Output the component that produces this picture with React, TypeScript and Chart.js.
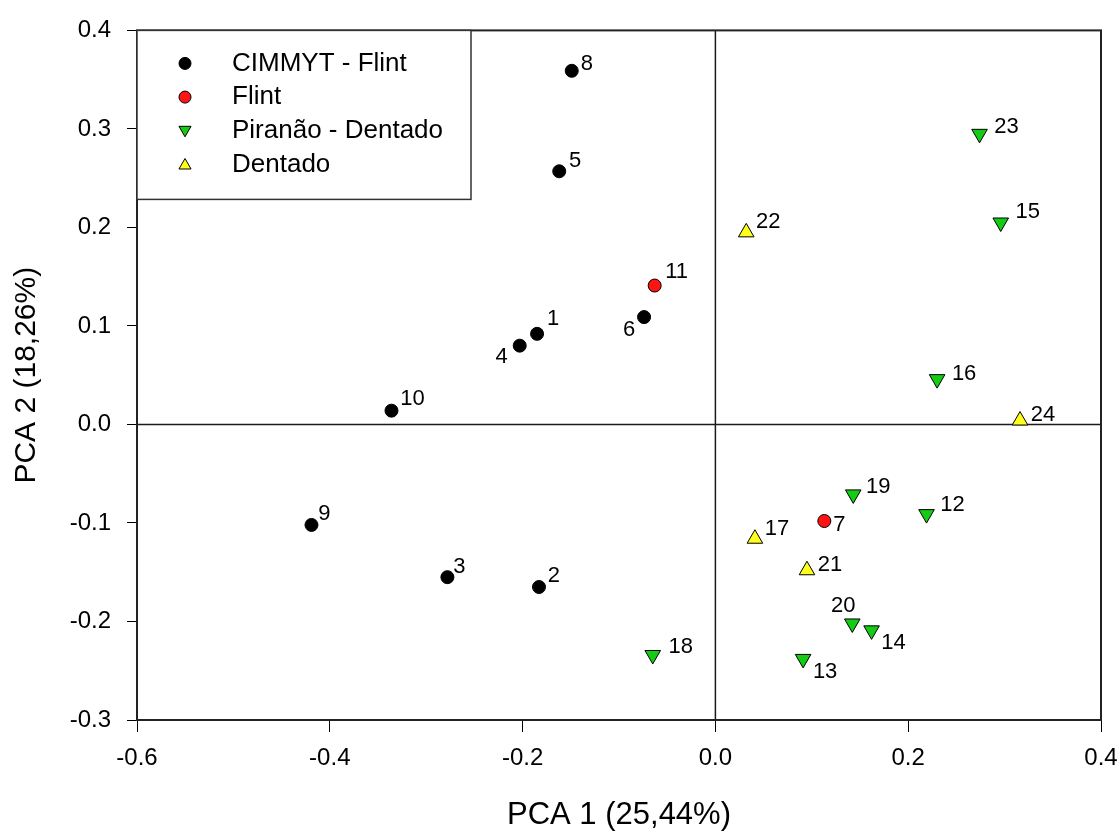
import React, { useEffect, useRef } from 'react';
import { Chart, registerables } from 'chart.js';

Chart.register(...registerables);

// ---------- data ----------
const seriesNames = ['CIMMYT - Flint', 'Flint', 'Piranão - Dentado', 'Dentado'];

const cimmytLabels = ['1', '2', '3', '4', '5', '6', '8', '9', '10'];
const cimmytX = [-0.185, -0.183, -0.278, -0.203, -0.162, -0.074, -0.149, -0.419, -0.336];
const cimmytY = [0.092, -0.165, -0.155, 0.080, 0.257, 0.109, 0.359, -0.102, 0.014];

const flintLabels = ['7', '11'];
const flintX = [0.113, -0.063];
const flintY = [-0.098, 0.141];

const piranaoLabels = ['12', '13', '14', '15', '16', '18', '19', '20', '23'];
const piranaoX = [0.219, 0.091, 0.162, 0.296, 0.230, -0.065, 0.143, 0.142, 0.274];
const piranaoY = [-0.091, -0.238, -0.209, 0.205, 0.046, -0.234, -0.071, -0.202, 0.295];

const dentadoLabels = ['17', '21', '22', '24'];
const dentadoX = [0.041, 0.095, 0.032, 0.316];
const dentadoY = [-0.116, -0.148, 0.195, 0.004];

const xTicks = [-0.6, -0.4, -0.2, 0.0, 0.2, 0.4];
const yTicks = [-0.3, -0.2, -0.1, 0.0, 0.1, 0.2, 0.3, 0.4];
const xTitle = 'PCA 1 (25,44%)';
const yTitle = 'PCA 2 (18,26%)';

// ---------- styles ----------
const FONT = '"Liberation Sans", Arial, sans-serif';

// label offset (dx, dy) in px from marker centre to label centre
const labelOffsets: Record<string, [number, number]> = {
  '1': [16, -15], '2': [15, -11], '3': [12, -10], '4': [-18, 11], '5': [16, -10],
  '6': [-15, 13], '7': [15, 4], '8': [15, -7], '9': [13, -11], '10': [21, -12],
  '11': [22, -14], '12': [26, -9], '13': [22, 13], '14': [22, 13], '15': [27, -11],
  '16': [27, -5], '17': [22, -10], '18': [28, -8], '19': [25, -7], '20': [-9, -18],
  '21': [23, -5], '22': [22, -10], '23': [27, -7], '24': [23, -6],
};

const mk = (xs: number[], ys: number[]) => xs.map((x, i) => ({ x, y: ys[i] }));

const seriesStyles = [
  { pointStyle: 'circle', rotation: 0, radius: 6.5, bg: '#000000', legendR: 6 },
  { pointStyle: 'circle', rotation: 0, radius: 6.5, bg: '#ff1414', legendR: 6 },
  { pointStyle: 'triangle', rotation: 180, radius: 9, bg: '#14cc14', legendR: 7 },
  { pointStyle: 'triangle', rotation: 0, radius: 9, bg: '#ffff1e', legendR: 7 },
];

const seriesLabels = [cimmytLabels, flintLabels, piranaoLabels, dentadoLabels];

function drawMarker(ctx: CanvasRenderingContext2D, style: string, rot: number, x: number, y: number, r: number, fill: string) {
  ctx.beginPath();
  if (style === 'circle') {
    ctx.arc(x, y, r, 0, Math.PI * 2);
  } else {
    let rad = (rot * Math.PI) / 180;
    for (let k = 0; k < 3; k++) {
      const px = x + Math.sin(rad) * r;
      const py = y - Math.cos(rad) * r;
      if (k === 0) ctx.moveTo(px, py); else ctx.lineTo(px, py);
      rad += (2 * Math.PI) / 3;
    }
    ctx.closePath();
  }
  ctx.fillStyle = fill;
  ctx.fill();
  ctx.strokeStyle = '#000';
  ctx.lineWidth = 1;
  ctx.stroke();
}

const framePlugin = {
  id: 'frameAndZero',
  beforeDatasetsDraw(chart: any) {
    const { ctx, chartArea: a, scales } = chart;
    ctx.save();
    ctx.strokeStyle = '#1a1a1a';
    ctx.lineWidth = 1.5;
    const x0 = scales.x.getPixelForValue(0);
    const y0 = scales.y.getPixelForValue(0);
    ctx.beginPath();
    ctx.moveTo(x0, a.top);
    ctx.lineTo(x0, a.bottom);
    ctx.moveTo(a.left, y0);
    ctx.lineTo(a.right, y0);
    ctx.stroke();
    ctx.strokeStyle = '#222';
    ctx.lineWidth = 2;
    ctx.strokeRect(a.left, a.top, a.right - a.left, a.bottom - a.top);
    ctx.restore();
  },
};

const labelPlugin = {
  id: 'pointLabels',
  afterDatasetsDraw(chart: any) {
    const { ctx } = chart;
    ctx.save();
    ctx.font = `22px ${FONT}`;
    ctx.fillStyle = '#000';
    ctx.textAlign = 'center';
    ctx.textBaseline = 'middle';
    chart.data.datasets.forEach((ds: any, di: number) => {
      const meta = chart.getDatasetMeta(di);
      meta.data.forEach((el: any, i: number) => {
        const lab = seriesLabels[di][i];
        const off = labelOffsets[lab] || [15, -10];
        ctx.fillText(lab, el.x + off[0], el.y + off[1]);
      });
    });
    ctx.restore();
  },
};

const legendPlugin = {
  id: 'boxLegend',
  afterDraw(chart: any) {
    const { ctx, chartArea: a } = chart;
    const bx = a.left;
    const by = a.top;
    const bw = 334;
    const bh = 169;
    ctx.save();
    ctx.fillStyle = '#fff';
    ctx.fillRect(bx, by, bw, bh);
    ctx.strokeStyle = '#333';
    ctx.lineWidth = 1.5;
    ctx.strokeRect(bx, by, bw, bh);
    ctx.font = `26px ${FONT}`;
    ctx.textAlign = 'left';
    ctx.textBaseline = 'middle';
    chart.data.datasets.forEach((ds: any, i: number) => {
      const st = seriesStyles[i];
      const y = by + 33 + i * 33.7;
      drawMarker(ctx, st.pointStyle, st.rotation, bx + 48, y + (st.pointStyle === 'triangle' ? (st.rotation ? -1 : 1) : 0), st.legendR, st.bg);
      ctx.fillStyle = '#000';
      ctx.fillText(ds.label, bx + 95, y);
    });
    ctx.restore();
  },
};

export default function App() {
  const canvasRef = useRef<HTMLCanvasElement | null>(null);

  useEffect(() => {
    document.body.style.margin = '0';
    const canvas = canvasRef.current;
    if (!canvas) return;
    const seriesData = [
      mk(cimmytX, cimmytY),
      mk(flintX, flintY),
      mk(piranaoX, piranaoY),
      mk(dentadoX, dentadoY),
    ];
    const chart = new Chart(canvas, {
      type: 'scatter',
      data: {
        datasets: seriesNames.map((name, i) => ({
          label: name,
          data: seriesData[i],
          pointStyle: seriesStyles[i].pointStyle as any,
          rotation: seriesStyles[i].rotation,
          pointRadius: seriesStyles[i].radius,
          pointHoverRadius: seriesStyles[i].radius,
          backgroundColor: seriesStyles[i].bg,
          borderColor: '#000',
          borderWidth: 1,
          showLine: false,
        })),
      },
      options: {
        animation: false,
        responsive: false,
        devicePixelRatio: 1,
        layout: { padding: { top: 29, right: 19, left: 0, bottom: 0 } },
        plugins: {
          legend: { display: false },
          tooltip: { enabled: false },
        },
        scales: {
          x: {
            type: 'linear',
            min: -0.6,
            max: 0.4,
            afterBuildTicks: (s: any) => {
              s.ticks = xTicks.map((v) => ({ value: v }));
            },
            afterFit: (s: any) => {
              s.height = 111;
              s.paddingLeft = 0;
              s.paddingRight = 0;
            },
            ticks: {
              color: '#000',
              padding: 12,
              font: { size: 24, family: FONT },
              maxRotation: 0,
              callback: (v: any) => Number(v).toFixed(1),
            },
            grid: {
              display: true,
              drawOnChartArea: false,
              drawTicks: true,
              tickLength: 12,
              color: '#000',
              lineWidth: 1,
            },
            border: { display: false },
            title: {
              display: true,
              text: xTitle,
              color: '#000',
              font: { size: 31, family: FONT, lineHeight: 1 },
              padding: { top: 0, bottom: 0 },
            },
          },
          y: {
            type: 'linear',
            min: -0.3,
            max: 0.4,
            afterBuildTicks: (s: any) => {
              s.ticks = yTicks.map((v) => ({ value: v }));
            },
            afterFit: (s: any) => {
              s.width = 137;
            },
            ticks: {
              color: '#000',
              padding: 16,
              font: { size: 24, family: FONT },
              callback: (v: any) => Number(v).toFixed(1),
            },
            grid: {
              display: true,
              drawOnChartArea: false,
              drawTicks: true,
              tickLength: 10,
              color: '#000',
              lineWidth: 1,
            },
            border: { display: false },
            title: {
              display: true,
              text: yTitle,
              color: '#000',
              font: { size: 30, family: FONT, lineHeight: 1 },
              padding: { top: 12, bottom: 0 },
            },
          },
        },
      },
      plugins: [framePlugin, labelPlugin, legendPlugin],
    });
    return () => chart.destroy();
  }, []);

  return (
    <div style={{ width: 1120, height: 831, background: '#fff' }}>
      <canvas ref={canvasRef} width={1120} height={831} style={{ display: 'block' }} />
    </div>
  );
}
